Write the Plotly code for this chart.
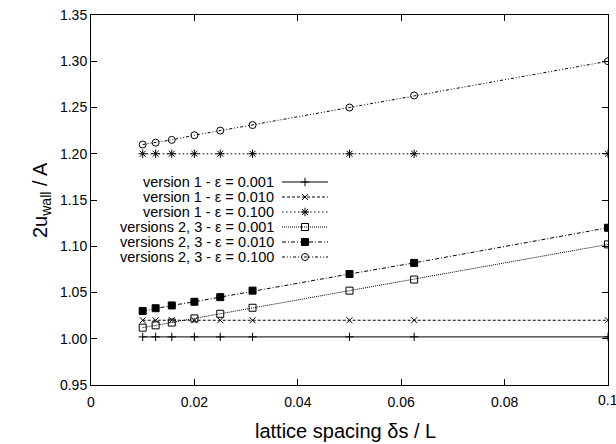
import plotly.graph_objects as go

# ---------------- data ----------------
ds = [0.01, 0.0125, 0.015625, 0.02, 0.025, 0.03125, 0.05, 0.0625, 0.1]

v1_e0001 = [1.002, 1.002, 1.002, 1.002, 1.002, 1.002, 1.002, 1.002, 1.002]
v1_e0010 = [1.020, 1.020, 1.020, 1.020, 1.020, 1.020, 1.020, 1.020, 1.020]
v1_e0100 = [1.200, 1.200, 1.200, 1.200, 1.200, 1.200, 1.200, 1.200, 1.200]
v23_e0001 = [1.012, 1.0145, 1.0175, 1.022, 1.027, 1.0335, 1.052, 1.064, 1.102]
v23_e0010 = [1.030, 1.033, 1.036, 1.040, 1.045, 1.052, 1.070, 1.082, 1.120]
v23_e0100 = [1.210, 1.212, 1.215, 1.220, 1.225, 1.231, 1.250, 1.263, 1.300]

labels = [
    "version 1 - \u03b5 = 0.001",
    "version 1 - \u03b5 = 0.010",
    "version 1 - \u03b5 = 0.100",
    "versions 2, 3 - \u03b5 = 0.001",
    "versions 2, 3 - \u03b5 = 0.010",
    "versions 2, 3 - \u03b5 = 0.100",
]
series = [v1_e0001, v1_e0010, v1_e0100, v23_e0001, v23_e0010, v23_e0100]

x_title = "lattice spacing \u03b4s / L"
y_title = "2u<sub>wall</sub> / A"
x_ticks = [0, 0.02, 0.04, 0.06, 0.08]
x_ticklabels = ["0", "0.02", "0.04", "0.06", "0.08"]
x_last_tick, x_last_label = 0.1, "0.1"
y_ticks = [0.95, 1.00, 1.05, 1.10, 1.15, 1.20, 1.25, 1.30, 1.35]
y_ticklabels = ["0.95", "1.00", "1.05", "1.10", "1.15", "1.20", "1.25", "1.30", "1.35"]

# ---------------- styles ----------------
dashes = ["solid", "3px,2px", "1.5px,2.5px", "1px,1px", "4px,2px,1px,2px", "3px,2px,1px,2px,1px,2px"]
symbols = ["cross-thin-open", "x-thin-open", "asterisk-open", "square-open", "square", "circle-open"]
msizes = [6, 6, 7, 7, 7, 7]

fig = go.Figure()
for y, lab, d, s, ms in zip(series, labels, dashes, symbols, msizes):
    fig.add_trace(go.Scatter(
        x=ds, y=y, mode="lines+markers", name=lab, showlegend=False,
        line=dict(color="black", width=1, dash=d),
        marker=dict(symbol=s, size=ms, color="black",
                    line=dict(color="black", width=1)),
    ))

# ---------------- custom legend (overlay pixel axes) ----------------
PLOT_W, PLOT_H = 517, 370
leg_rows_top = [182, 197, 212, 227, 242, 257]  # page px
plot_top, plot_left = 15, 91
key_x0, key_x1, key_xm = 282 - plot_left, 328 - plot_left, 305 - plot_left
text_right = 275 - plot_left
for i, (lab, d, s, ms) in enumerate(zip(labels, dashes, symbols, msizes)):
    yy = PLOT_H - (leg_rows_top[i] - plot_top)
    fig.add_trace(go.Scatter(
        x=[key_x0, key_x1], y=[yy, yy], mode="lines", xaxis="x2", yaxis="y2",
        showlegend=False, hoverinfo="skip",
        line=dict(color="black", width=1, dash=d),
    ))
    fig.add_trace(go.Scatter(
        x=[key_xm], y=[yy], mode="markers", xaxis="x2", yaxis="y2",
        showlegend=False, hoverinfo="skip",
        marker=dict(symbol=s, size=ms, color="black", line=dict(color="black", width=1)),
    ))
    fig.add_annotation(x=text_right, y=yy, xref="x2", yref="y2", text=lab,
                       showarrow=False, xanchor="right", yanchor="middle",
                       font=dict(size=14.5, color="black"), borderpad=0)

# last x tick label (clipped at page edge, as in the reference)
fig.add_annotation(x=x_last_tick, y=0, xref="x", yref="paper", text=x_last_label,
                   showarrow=False, xanchor="center", yanchor="top", yshift=-5,
                   font=dict(size=14, color="black"))

# axis titles
fig.add_annotation(x=0.5, y=0, xref="paper", yref="paper", text=x_title,
                   showarrow=False, xanchor="center", yanchor="top",
                   xshift=-4, yshift=-33, font=dict(size=20, color="black"))
fig.add_annotation(x=0, y=0.5, xref="paper", yref="paper", text=y_title,
                   showarrow=False, xanchor="center", yanchor="middle", textangle=-90,
                   xshift=-50, font=dict(size=20, color="black"))

font_family = "Liberation Sans, Arial, sans-serif"
fig.update_layout(
    width=616, height=444,
    margin=dict(l=91, r=8, t=15, b=59),
    paper_bgcolor="white", plot_bgcolor="white",
    font=dict(family=font_family, color="black", size=14),
    xaxis=dict(
        range=[0, 0.1], tickvals=x_ticks + [x_last_tick], ticktext=x_ticklabels + [""],
        ticks="inside", ticklen=6, tickcolor="black", tickwidth=1,
        showline=True, linecolor="black", linewidth=1, mirror="ticks",
        showgrid=False, zeroline=False, ticklabelstandoff=4, automargin=False,
        tickfont=dict(size=14),
    ),
    yaxis=dict(
        range=[0.95, 1.35], tickvals=y_ticks, ticktext=y_ticklabels,
        ticks="inside", ticklen=6, tickcolor="black", tickwidth=1,
        showline=True, linecolor="black", linewidth=1, mirror="ticks",
        showgrid=False, zeroline=False, automargin=False,
        tickfont=dict(size=14),
    ),
    xaxis2=dict(range=[0, PLOT_W], overlaying="x", visible=False, fixedrange=True),
    yaxis2=dict(range=[0, PLOT_H], overlaying="y", visible=False, fixedrange=True),
)

fig.write_html("out.html")
